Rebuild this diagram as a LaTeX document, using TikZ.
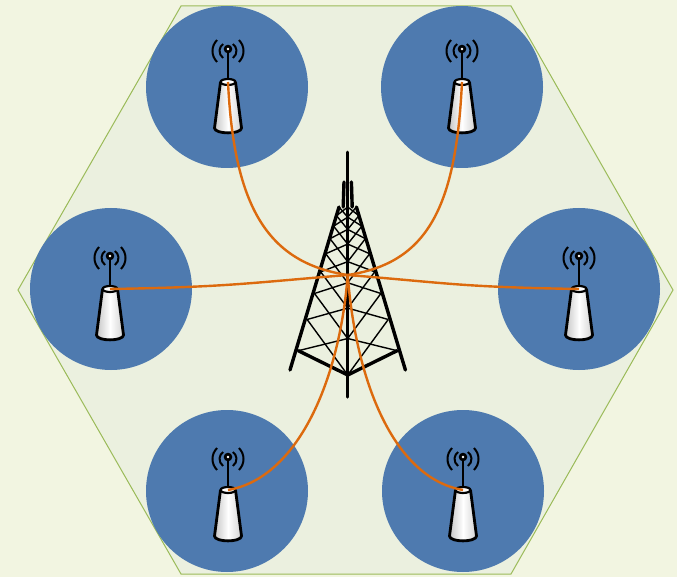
\documentclass[tikz,border=0pt]{standalone}
\usetikzlibrary{calc}
\definecolor{bgcol}{HTML}{F2F5E1}
\definecolor{hexfill}{HTML}{EBF0DF}
\definecolor{hexline}{HTML}{9BBB59}
\definecolor{cellblue}{HTML}{4E7AAF}
\definecolor{linkorange}{HTML}{DC6A0E}
\tikzset{
  cellc/.style={circle, fill=cellblue, draw=none, minimum size=162pt, inner sep=0pt},
  towerthick/.style={line width=3.4pt, line cap=round, line join=round},
  towerthin/.style={line width=1.4pt},
  link/.style={draw=linkorange, line width=2.4pt},
  router/.pic={
    \coordinate (-top) at (0,0);
    \path[left color=gray!45, right color=gray!35, middle color=white]
      (-7.5,0) -- (-13.5,46) .. controls (-13.5,52.5) and (13.5,52.5) .. (13.5,46) -- (7.5,0) -- cycle;
    \draw[line width=2.8pt, line join=round]
      (-7.5,0) -- (-13.5,46) .. controls (-13.5,52.5) and (13.5,52.5) .. (13.5,46) -- (7.5,0);
    \draw[line width=2.2pt, fill=white] (0,0) ellipse [x radius=7.5, y radius=3];
    \draw[line width=2.8pt] (0,-33) -- (0,-3);
    \fill (0,-33) circle (4.3);
    \fill[white] (0,-33) circle (1.3);
    \draw[line width=2pt] (0,-31) ++(125:8.5) arc[start angle=125, end angle=235, radius=8.5];
    \draw[line width=2pt] (0,-31) ++(55:8.5) arc[start angle=55, end angle=-55, radius=8.5];
    \draw[line width=2pt] (0,-31) ++(135:15.5) arc[start angle=135, end angle=225, radius=15.5];
    \draw[line width=2pt] (0,-31) ++(45:15.5) arc[start angle=45, end angle=-45, radius=15.5];
  }
}
\begin{document}
\begin{tikzpicture}[x=1pt, y=-1pt]
  % canvas
  \fill[bgcol] (0,0) rectangle (677,577);
  \useasboundingbox (0,0) rectangle (677,577);

  % hexagonal cell area
  \draw[fill=hexfill, draw=hexline, line width=1pt]
    (181,6) -- (511,6) -- (673,290) -- (511,574) -- (181,574) -- (18,290) -- cycle;

  % coverage circles
  \node[cellc] (c1) at (227,87) {};
  \node[cellc] (c2) at (462,87) {};
  \node[cellc] (c3) at (111,289) {};
  \node[cellc] (c4) at (579,289) {};
  \node[cellc] (c5) at (227,491) {};
  \node[cellc] (c6) at (463,491) {};

  % transmission tower
  \coordinate (Ltop) at (339,207);
  \coordinate (Lbase) at (298.3,350.7);
  \coordinate (Lfoot) at (290,370);
  \coordinate (Rtop) at (356.4,207);
  \coordinate (Rbase) at (397.1,350.7);
  \coordinate (Rfoot) at (405.4,370);
  \coordinate (Ctop) at (347.7,207);
  \coordinate (Cbase) at (347.7,375);
  \coordinate (Cfoot) at (347.7,397);
  \coordinate (mast) at (347.7,152);
  \coordinate (hub) at (347.7,275);

  \foreach \a/\b in {0/0.0606, 0.0606/0.1333, 0.1333/0.2206, 0.2206/0.3253,
                     0.3253/0.451, 0.451/0.6018, 0.6018/0.7828, 0.7828/1} {
    \draw[towerthin] ($(Ltop)!\a!(Lbase)$) -- ($(Ctop)!\b!(Cbase)$);
    \draw[towerthin] ($(Ctop)!\a!(Cbase)$) -- ($(Ltop)!\b!(Lbase)$);
    \draw[towerthin] ($(Rtop)!\a!(Rbase)$) -- ($(Ctop)!\b!(Cbase)$);
    \draw[towerthin] ($(Ctop)!\a!(Cbase)$) -- ($(Rtop)!\b!(Rbase)$);
  }
  \draw[line width=2.8pt, line cap=round] (mast) -- (Ctop);
  \draw[towerthick] (344,182) -- (343.2,207);
  \draw[towerthick] (351.4,182) -- (352.2,207);
  \draw[towerthick] (Ltop) -- (Lfoot);
  \draw[towerthick] (Rtop) -- (Rfoot);
  \draw[towerthick] (Ctop) -- (Cfoot);
  \draw[towerthick] (Lbase) -- (Cbase) -- (Rbase);

  % access points
  \pic (r1) at (228,82) {router};
  \pic (r2) at (462,82) {router};
  \pic (r3) at (110,289) {router};
  \pic (r4) at (579,289) {router};
  \pic (r5) at (228,490) {router};
  \pic (r6) at (463,490) {router};

  % links to the tower
  \draw[link] (r1-top) .. controls +(6,125) and +(-80,-12) .. (hub);
  \draw[link] (r2-top) .. controls +(-6,125) and +(80,-12) .. (hub);
  \draw[link] (r3-top) .. controls +(120,-2) and +(-100,8) .. (hub);
  \draw[link] (r4-top) .. controls +(-120,-2) and +(100,8) .. (hub);
  \draw[link] (r5-top) .. controls +(70,-12) and +(-8,105) .. (hub);
  \draw[link] (r6-top) .. controls +(-70,-12) and +(8,105) .. (hub);
\end{tikzpicture}
\end{document}
